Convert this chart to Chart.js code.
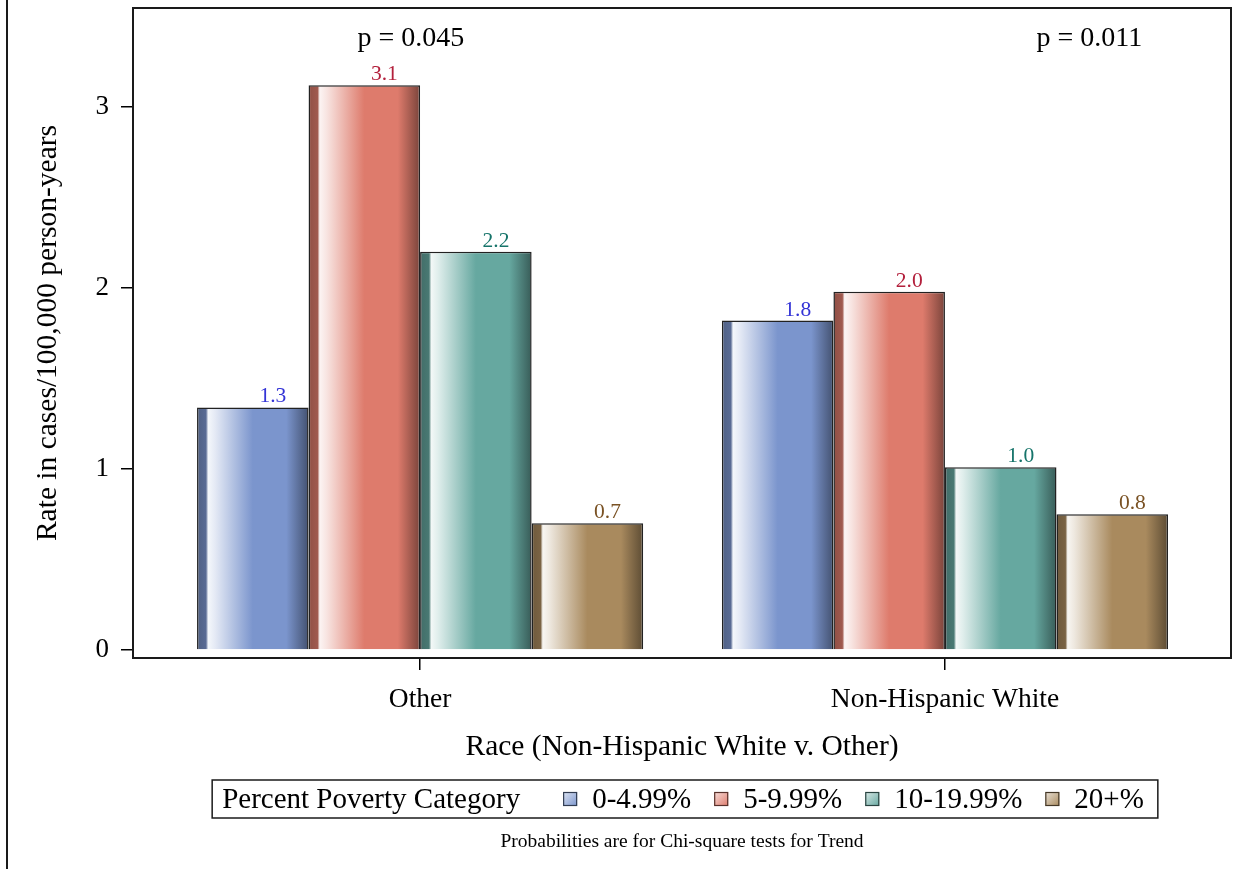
<!DOCTYPE html>
<html>
<head>
<meta charset="utf-8">
<title>Rate by race and poverty category</title>
<script src="https://cdn.jsdelivr.net/npm/chart.js@4.4.1/dist/chart.umd.min.js"></script>
<style>
  html, body { margin: 0; padding: 0; background: #fff; }
  #wrap { width: 1249px; height: 869px; }
</style>
</head>
<body>
<div id="wrap"><canvas id="rateChart" width="1249" height="869"></canvas></div>
<script>
/* ---- data ---- */
const categories = ['Other', 'Non-Hispanic White'];
const seriesNames = ['0-4.99%', '5-9.99%', '10-19.99%', '20+%'];
const rate0to5 = [1.34, 1.82];
const rate5to10 = [3.12, 1.98];
const rate10to20 = [2.20, 1.01];
const rate20plus = [0.70, 0.75];
const seriesValues = [rate0to5, rate5to10, rate10to20, rate20plus];
const yTicks = [0, 1, 2, 3];
const pValues = ['p = 0.045', 'p = 0.011'];
const legendTitle = 'Percent Poverty Category';
const footnote = 'Probabilities are for Chi-square tests for Trend';

/* ---- styles ---- */
const seriesColors = ['#7b95cd', '#de7b6c', '#66a8a0', '#a98a5e'];
const labelColors = ['#3434d6', '#b3203c', '#16746a', '#7a5224'];
const FONT = '"Liberation Serif", "Times New Roman", serif';

Chart.defaults.font.family = FONT;
Chart.defaults.color = '#000';

function hexRgb(hex) {
    const n = parseInt(hex.slice(1), 16);
    return [(n >> 16) & 255, (n >> 8) & 255, n & 255];
}
// f < 0 darkens toward black, f > 0 lightens toward white
function mix(hex, f) {
    const c = hexRgb(hex).map(v => f < 0 ? v * (1 + f) : v + (255 - v) * f);
    return `rgb(${c.map(Math.round).join(',')})`;
}

const CAT_PCT = 0.85;

// horizontal shaded fill, like the SAS "gradient" skin
function barFill(context) {
    const idx = context.datasetIndex;
    const base = seriesColors[idx];
    const chart = context.chart;
    const xs = chart.scales.x;
    if (!chart.chartArea || !xs || !context.raw) return base;
    const unit = xs.getPixelForValue(1) - xs.getPixelForValue(0);
    const groupW = unit * CAT_PCT;
    const barW = groupW / seriesValues.length;
    const left = xs.getPixelForValue(context.raw.x) - groupW / 2 + idx * barW;
    if (!isFinite(left) || !isFinite(barW)) return base;
    const g = chart.ctx.createLinearGradient(left, 0, left + barW, 0);
    g.addColorStop(0, mix(base, -0.35));
    g.addColorStop(0.08, mix(base, -0.28));
    g.addColorStop(0.1, mix(base, 0.92));
    g.addColorStop(0.16, mix(base, 0.8));
    g.addColorStop(0.5, base);
    g.addColorStop(0.8, base);
    g.addColorStop(1, mix(base, -0.45));
    return g;
}

/* ---- plugins ---- */
const frameAndNotes = {
    id: 'frameAndNotes',
    afterDatasetsDraw(chart) {
        const c = chart.ctx;
        const a = chart.chartArea;
        c.save();
        // plot frame
        c.strokeStyle = '#1a1a1a';
        c.lineWidth = 2;
        c.strokeRect(a.left, a.top, a.right - a.left, a.bottom - a.top);
        // page edge line on the left
        c.beginPath();
        c.moveTo(7, 0);
        c.lineTo(7, chart.height);
        c.stroke();

        // value labels over the bars
        c.font = '21.5px ' + FONT;
        c.textAlign = 'center';
        c.textBaseline = 'alphabetic';
        chart.data.datasets.forEach((ds, di) => {
            chart.getDatasetMeta(di).data.forEach((bar, i) => {
                c.fillStyle = labelColors[di];
                c.fillText(seriesValues[di][i].toFixed(1), bar.x + bar.width * 0.18, bar.y - 5);
            });
        });

        // trend test p-values
        c.fillStyle = '#000';
        c.font = '28px ' + FONT;
        const pPos = [0.253, 0.871];
        pValues.forEach((p, i) => {
            c.fillText(p, a.left + (a.right - a.left) * pPos[i], a.top + 38);
        });
        c.restore();
    },
    afterDraw(chart) {
        const c = chart.ctx;
        const a = chart.chartArea;
        const mid = (a.left + a.right) / 2 + 3;
        c.save();
        c.font = '29px ' + FONT;
        c.textBaseline = 'alphabetic';
        c.textAlign = 'left';
        const box = 14, gapBox = 15, gapItem = 23, gapTitle = 43, padL = 10, padR = 14;
        const titleW = c.measureText(legendTitle).width;
        const textW = seriesNames.map(n => c.measureText(n).width);
        let total = padL + titleW + gapTitle + padR;
        textW.forEach((w, i) => { total += box + gapBox + w + (i < textW.length - 1 ? gapItem : 0); });
        const left = mid - total / 2;
        const top = 780, h = 38;
        const base = top + 28;
        c.strokeStyle = '#1a1a1a';
        c.lineWidth = 1.5;
        c.strokeRect(left, top, total, h);
        c.fillStyle = '#000';
        c.fillText(legendTitle, left + padL, base);
        let x = left + padL + titleW + gapTitle;
        seriesNames.forEach((n, i) => {
            const sy = top + h / 2 - box / 2;
            const g = c.createLinearGradient(x, sy, x + box, sy + box);
            g.addColorStop(0, mix(seriesColors[i], 0.75));
            g.addColorStop(1, seriesColors[i]);
            c.fillStyle = g;
            c.fillRect(x, sy, box, box);
            c.strokeStyle = mix(seriesColors[i], -0.6);
            c.lineWidth = 1.2;
            c.strokeRect(x + 0.5, sy + 0.5, box - 1, box - 1);
            x += box + gapBox;
            c.fillStyle = '#000';
            c.fillText(n, x, base);
            x += textW[i] + gapItem;
        });

        // footnote
        c.font = '19.5px ' + FONT;
        c.textAlign = 'center';
        c.fillText(footnote, (a.left + a.right) / 2, 847);
        c.restore();
    }
};

/* ---- chart ---- */
const ctx = document.getElementById('rateChart').getContext('2d');

const datasets = seriesNames.map((name, i) => ({
    label: name,
    data: seriesValues[i].map((v, j) => ({ x: j, y: v })),
    backgroundColor: barFill,
    borderColor: '#222',
    borderWidth: 1.5,
    categoryPercentage: CAT_PCT,
    barPercentage: 1.0
}));

new Chart(ctx, {
    type: 'bar',
    data: { datasets: datasets },
    options: {
        responsive: false,
        animation: false,
        events: [],
        layout: { padding: { top: 8, right: 18, bottom: 0, left: 0 } },
        plugins: {
            legend: { display: false },
            title: { display: false },
            tooltip: { enabled: false }
        },
        scales: {
            x: {
                type: 'linear',
                bounds: 'data',
                offset: false,
                min: -0.547,
                max: 1.545,
                afterBuildTicks: s => { s.ticks = categories.map((_, i) => ({ value: i })); },
                afterFit: s => { s.height = 211; s.paddingLeft = 0; s.paddingRight = 0; },
                grid: { offset: false, drawOnChartArea: false, drawTicks: true, tickLength: 12, color: '#000', lineWidth: 1.5 },
                border: { display: false },
                ticks: {
                    font: { size: 27.5 },
                    padding: 13,
                    maxRotation: 0,
                    callback: v => categories[v]
                },
                title: {
                    display: true,
                    text: 'Race (Non-Hispanic White v. Other)',
                    font: { size: 29.5 },
                    padding: { top: 0, bottom: 104 }
                }
            },
            y: {
                bounds: 'data',
                min: -0.044,
                max: 3.547,
                afterBuildTicks: s => { s.ticks = yTicks.map(v => ({ value: v })); },
                afterFit: s => { s.width = 133; s.paddingTop = 0; s.paddingBottom = 0; },
                grid: { drawOnChartArea: false, drawTicks: true, tickLength: 12, color: '#000', lineWidth: 1.5 },
                border: { display: false },
                ticks: { font: { size: 27 }, padding: 12 },
                title: {
                    display: true,
                    text: 'Rate in cases/100,000 person-years',
                    font: { size: 29.5 },
                    padding: { top: 31, bottom: 0 }
                }
            }
        }
    },
    plugins: [frameAndNotes]
});
</script>
</body>
</html>
